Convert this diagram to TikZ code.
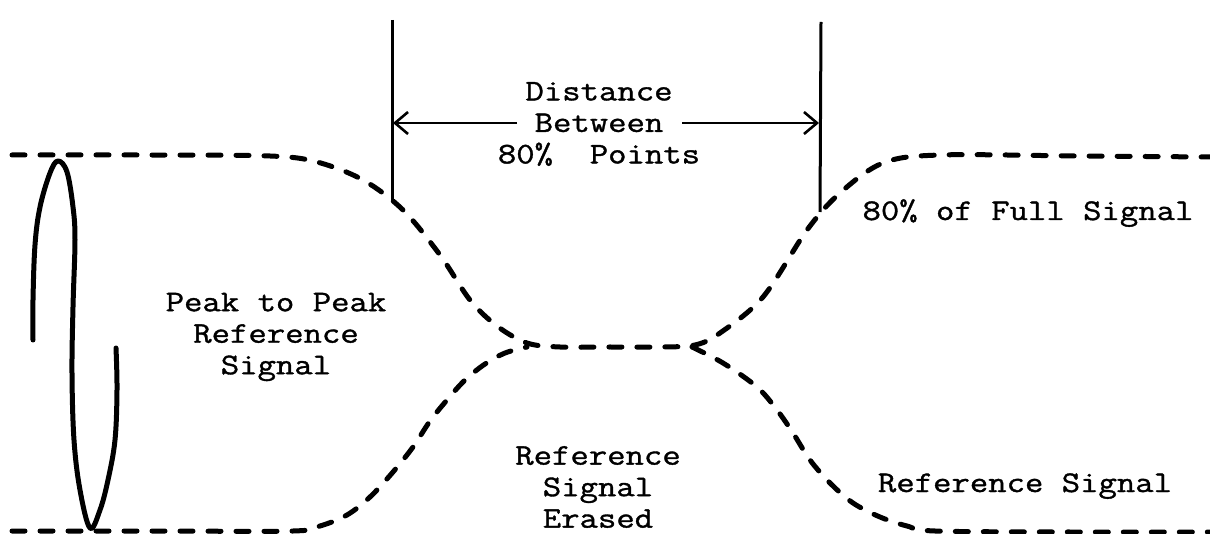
\documentclass[tikz,border=0pt]{standalone}
\usepackage{fontspec}
\newfontfamily\tw[FakeStretch=1.19,FakeBold=1.2]{Latin Modern Mono}
\usetikzlibrary{arrows.meta}
\begin{document}
\begin{tikzpicture}[x=1pt,y=-1pt,
  sig/.style={line width=5pt,dash pattern=on 13pt off 15pt,line cap=round,line join=round},
  wave/.style={line width=5pt,line cap=round,line join=round},
  marker/.style={line width=3pt},
  dim/.style={line width=2.6pt,-{Straight Barb[length=13pt,width=22pt]}},
  lbl/.style={font=\tw\fontsize{30}{31.5}\selectfont,inner sep=0pt,align=center}]
\useasboundingbox (0,0) rectangle (1210,534);
% upper signal path
\draw[sig] plot[smooth,tension=0.55] coordinates {(12,155) (150,155) (270,156) (317,162) (363,180) (403,210) (440,255) (470,300) (497,326) (527,343) (560,347) (610,347) (660,347) (695,345) (720,333) (763,297) (807,230) (840,193) (883,163) (940,155) (1080,156) (1210,157)};
% lower-left signal path
\draw[sig] plot[smooth,tension=0.55] coordinates {(12,531) (150,531) (293,531) (320,526) (347,515) (370,497) (393,472) (413,447) (430,421) (447,400) (465,380) (485,364) (505,353) (527,347)};
% lower-right signal path
\draw[sig] plot[smooth,tension=0.55] coordinates {(692,347) (723,363) (757,387) (777,410) (793,433) (810,460) (830,483) (853,503) (880,517) (907,526) (935,531) (1070,532) (1210,532)};
% hand drawn peak-to-peak wave
\draw[wave] plot[smooth,tension=0.6] coordinates {(33,340) (33,300) (35,245) (40,207) (50,173) (58,161) (67,172) (73,207) (75,240) (73,307) (72,373) (74,440) (80,490) (90,528) (100,510) (108,480) (115,440) (117,390) (116,348)};
% 80% markers
\coordinate (tL) at (392,20);
\coordinate (bL) at (392,200);
\coordinate (tR) at (821,22);
\coordinate (bR) at (820,212);
\draw[marker] (tL) -- (bL);
\draw[marker] (tR) -- (bR);
% labels
\node[lbl] (dist) at (599,124) {Distance\\Between\\80\%\ \ Points};
\coordinate (aL) at (517,123);
\coordinate (vL) at (393,123);
\coordinate (aR) at (682,123);
\coordinate (vR) at (819,123);
\draw[dim] (aL) -- (vL);
\draw[dim] (aR) -- (vR);
\node[lbl] (peak) at (276,337) {Peak to Peak\\Reference\\Signal};
\node[lbl] (erased) at (598,487) {Reference\\Signal\\Erased};
\node[lbl,anchor=base] (full) at (1028,220) {80\% of Full Signal};
\node[lbl,anchor=base] (refsig) at (1025,492) {Reference Signal};
\end{tikzpicture}
\end{document}
